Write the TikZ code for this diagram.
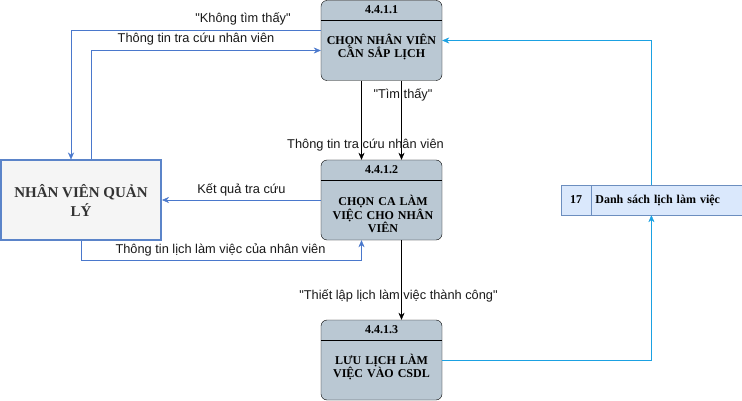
\documentclass[tikz,border=0pt]{standalone}
\usepackage{fontspec}
\setmainfont{Liberation Serif}
\newfontfamily\labelfont{Liberation Sans}
\usetikzlibrary{positioning,arrows.meta}
\definecolor{procfill}{HTML}{BAC8D3}
\definecolor{entfill}{HTML}{F5F5F5}
\definecolor{entline}{HTML}{5B84C9}
\definecolor{enttext}{HTML}{333333}
\definecolor{flowblue}{HTML}{4A78CC}
\definecolor{storefill}{HTML}{DAE8FC}
\definecolor{storeline}{HTML}{6C8EBF}
\definecolor{storeflow}{HTML}{1BA1E2}
\begin{document}
\begin{tikzpicture}[x=1pt, y=-1pt,
        proc/.style={draw=black, fill=procfill, rounded corners=6pt, minimum width=121pt, minimum height=80pt, inner sep=0pt},
        ptext/.style={font=\bfseries\fontsize{12}{13.5}\selectfont, align=center, text width=116pt, inner sep=0pt},
        ent/.style={draw=entline, line width=2pt, fill=entfill, text=enttext, minimum width=160pt, minimum height=79pt, align=center, font=\bfseries\fontsize{15}{19}\selectfont},
        store/.style={draw=storeline, fill=storefill, minimum height=30pt, inner sep=4pt, font=\bfseries\fontsize{12}{13.5}\selectfont},
        flow/.style={draw=flowblue, -{Stealth[length=7pt,width=6pt]}},
        blk/.style={draw=black, -{Stealth[length=7pt,width=6pt]}},
        sflow/.style={draw=storeflow, -{Stealth[length=7pt,width=6pt]}},
        lbl/.style={font=\labelfont\fontsize{12.8}{14}\selectfont, text=black!90, inner sep=1pt}]
        \useasboundingbox[fill=white] (0,0) rectangle (742,401);
        % processes
        \node[proc] (p1) at (381.5,40.5) {};
        \node[proc] (p2) at (381.5,200) {};
        \node[proc] (p3) at (381.5,360) {};
        \draw ([yshift=-20pt]p1.north west) -- ([yshift=-20pt]p1.north east);
        \draw ([yshift=-20pt]p2.north west) -- ([yshift=-20pt]p2.north east);
        \draw ([yshift=-20pt]p3.north west) -- ([yshift=-20pt]p3.north east);
        \node[ptext] (p1id)   at (381.5,10)  {4.4.1.1};
        \node[ptext] (p1name) at (381.5,47)  {CHỌN NHÂN VIÊN\\CẦN SẮP LỊCH};
        \node[ptext] (p2id)   at (381.5,170) {4.4.1.2};
        \node[ptext] (p2name) at (383,214)   {CHỌN CA LÀM\\VIỆC CHO NHÂN\\VIÊN};
        \node[ptext] (p3id)   at (381.5,330) {4.4.1.3};
        \node[ptext] (p3name) at (381.5,367) {LƯU LỊCH LÀM\\VIỆC VÀO CSDL};
        % external entity and data store
        \node[ent] (nv) at (81,200) {NHÂN VIÊN QUẢN\\LÝ};
        \node[store, minimum width=30pt] (dsnum) at (576,200) {17};
        \node[store, right=0pt of dsnum, text width=143pt, align=left] (dsname) {Danh sách lịch làm việc};
        % flows between entity and processes
        \draw[flow] ([yshift=10pt]p1.west) -| ([xshift=-10pt]nv.north);
        \draw[flow] ([xshift=10pt]nv.north) |- ([yshift=-10pt]p1.west);
        \draw[flow] (p2.west) -- (nv.east);
        \draw[flow] (nv.south) -- ++(0,20) -| ([xshift=-20pt]p2.south);
        \draw[blk] ([xshift=-20pt]p1.south) -- ([xshift=-20pt]p2.north);
        \draw[blk] ([xshift=20pt]p1.south) -- ([xshift=20pt]p2.north);
        \draw[blk] ([xshift=20pt]p2.south) -- ([xshift=20pt]p3.north);
        % flows through the data store
        \draw[sflow] (p3.east) -| ([xshift=-15.5pt]dsname.south);
        \draw[sflow] ([xshift=-15.5pt]dsname.north) |- (p1.east);
        % flow labels
        \node[lbl] (lkhong)  at (243,19)    {"Không tìm thấy"};
        \node[lbl] (ltra1)   at (196,39)    {Thông tin tra cứu nhân viên};
        \node[lbl] (ltim)    at (403,95)    {"Tìm thấy"};
        \node[lbl] (ltra2)   at (365.5,145) {Thông tin tra cứu nhân viên};
        \node[lbl] (lketqua) at (241.5,190) {Kết quả tra cứu};
        \node[lbl] (llich)   at (220.5,250) {Thông tin lịch làm việc của nhân viên};
        \node[lbl] (lthiet)  at (398.5,296) {"Thiết lập lịch làm việc thành công"};
    \end{tikzpicture}
\end{document}
